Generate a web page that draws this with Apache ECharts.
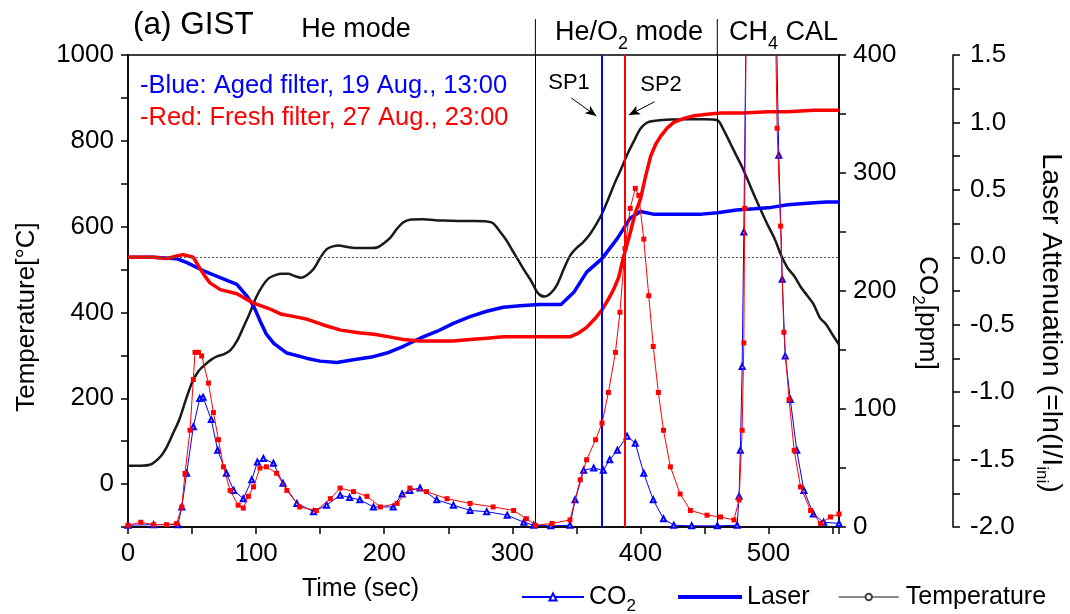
<!DOCTYPE html>
<html>
<head>
<meta charset="utf-8">
<script src="https://cdn.jsdelivr.net/npm/echarts@6/dist/echarts.min.js"></script>
<style>
html, body { margin: 0; background: #fff; }
#graph { width: 1070px; height: 614px; }
</style>
</head>
<body>
<div id="graph"></div>
<script>
// time axis (sec) and values
var tempTime = [0, 10, 17, 25, 30, 35, 40, 45, 50, 55, 60, 65, 70, 75, 80, 85, 90, 95, 100, 105, 110, 115, 120, 125, 130, 135, 140, 145, 150, 155, 160, 165, 170, 175, 180, 190, 195, 200, 205, 210, 215, 220, 230, 240, 250, 260, 270, 280, 285, 290, 295, 300, 305, 310, 315, 320, 325, 330, 335, 340, 345, 350, 355, 360, 365, 370, 375, 380, 385, 390, 395, 400, 405, 410, 420, 440, 450, 460, 465, 470, 475, 480, 485, 490, 495, 500, 505, 510, 515, 520, 525, 530, 535, 540, 545, 550, 555];
var tempVal = [43, 43, 45, 63, 85, 117, 150, 195, 237, 263, 278, 290, 298, 303, 312, 333, 365, 398, 435, 462, 480, 487, 490, 490, 485, 481, 488, 502, 527, 547, 554, 556, 553, 551, 550, 550, 552, 562, 575, 595, 610, 616, 617, 615, 614, 613, 613, 612, 608, 590, 570, 545, 520, 495, 472, 445, 437, 445, 465, 500, 532, 550, 563, 580, 603, 630, 665, 702, 735, 770, 800, 828, 842, 846, 849, 850, 850, 848, 825, 795, 765, 735, 700, 665, 632, 600, 570, 532, 503, 485, 460, 440, 420, 388, 372, 348, 325];

var laserBlueTime = [0, 20, 38, 46, 59, 72, 85, 93, 98, 103, 108, 114, 124, 140, 150, 163, 176, 190, 202, 215, 228, 241, 254, 267, 280, 293, 306, 321, 338, 348, 358, 370, 382, 392, 400, 410, 423, 436, 448, 460, 475, 489, 502, 515, 530, 545, 555];
var laserBlueVal = [0.00, 0.00, -0.01, -0.04, -0.10, -0.15, -0.20, -0.29, -0.36, -0.47, -0.57, -0.64, -0.71, -0.75, -0.77, -0.78, -0.76, -0.74, -0.71, -0.66, -0.60, -0.55, -0.49, -0.44, -0.40, -0.37, -0.36, -0.35, -0.35, -0.26, -0.11, -0.01, 0.14, 0.29, 0.34, 0.32, 0.32, 0.32, 0.32, 0.33, 0.35, 0.36, 0.37, 0.39, 0.40, 0.41, 0.41];

var laserRedTime = [0, 20, 30, 38, 43, 51, 56, 60, 64, 72, 85, 98, 110, 119, 130, 140, 152, 166, 180, 192, 204, 215, 228, 241, 254, 267, 280, 293, 306, 321, 345, 352, 358, 365, 370, 375, 379, 383, 387, 392, 396, 400, 404, 408, 412, 416, 421, 426, 434, 442, 452, 463, 480, 500, 515, 535, 555];
var laserRedVal = [0.00, 0.00, -0.01, 0.01, 0.02, 0.00, -0.08, -0.14, -0.19, -0.24, -0.27, -0.34, -0.38, -0.42, -0.44, -0.46, -0.50, -0.54, -0.56, -0.57, -0.59, -0.61, -0.62, -0.62, -0.62, -0.61, -0.60, -0.59, -0.59, -0.59, -0.59, -0.56, -0.52, -0.45, -0.39, -0.31, -0.24, -0.15, 0.01, 0.18, 0.33, 0.43, 0.60, 0.75, 0.84, 0.90, 0.96, 1.00, 1.03, 1.05, 1.06, 1.07, 1.07, 1.08, 1.08, 1.09, 1.09];

var co2BlueTime = [0, 20, 39, 42, 45.8, 51, 56, 58.6, 65, 70, 76.8, 82.5, 90, 96.6, 101, 105.7, 113.5, 121, 131.8, 144.8, 155, 165.6, 173, 181, 191.6, 207, 214, 220, 228, 241, 254, 267, 280, 296, 309, 316.7, 330, 345, 349, 355.7, 363.5, 371, 376, 382, 389.6, 396, 402.6, 410, 418, 426, 440, 460, 475.5, 477, 478, 479.4, 480.7, 482.5, 494, 506, 508, 510.7, 513, 517, 522, 527.6, 535, 543, 555];
var co2BlueVal = [1.5, 2, 2, 17, 45.5, 85, 109, 110, 91, 65, 45.5, 31, 24, 40, 55, 58, 54, 37, 20, 13, 18.5, 27, 25, 23, 17, 17, 28, 31, 33, 23, 18.5, 14, 13, 10, 4, 1.5, 1, 1.5, 23, 48, 50, 48, 57, 65, 77, 71, 45.5, 23, 7, 1.5, 1, 1, 1.5, 26, 65, 136, 250, 430, 600, 430, 315, 210, 145, 108, 65, 31, 11, 4, 3];

var co2RedTime = [0, 10, 20, 30, 38, 42, 44.5, 48.4, 51, 52.3, 55, 57.5, 62.8, 66.7, 70.6, 74.5, 79.7, 86, 90, 94, 98, 103, 108, 116, 124, 134, 147, 158, 165.6, 176, 186.5, 197, 210, 220, 233, 249, 267, 285, 301, 311, 318, 331, 345, 353, 358, 365, 370, 375, 380.5, 384, 388, 392, 396, 398.7, 402.6, 406.5, 410, 414, 418, 423.4, 431, 439, 452, 462.5, 473, 477, 479.4, 480.7, 481.4, 482.5, 494, 505.5, 506.7, 509.4, 512, 516, 520, 525, 532.8, 540.6, 548.4, 555];
var co2RedVal = [1.5, 4, 2, 2, 3, 17, 45.5, 82, 125, 148, 148, 145, 122, 97, 74, 51, 31, 18.5, 16, 26, 34, 50, 51, 45.5, 31, 17, 14, 24, 33, 30, 26, 17, 20, 33, 30, 24, 20, 17, 14, 7, 1.5, 3, 6, 40, 57, 74, 88, 114, 148, 182, 236, 270, 287, 281, 244, 196, 153, 114, 82, 51, 28, 14, 10, 8.5, 6, 23, 82, 156, 270, 420, 600, 420, 338, 255, 165, 108, 65, 34, 14, 3, 8.5, 11];

// mode boundaries and sampling points (sec)
var modeBounds = [318, 460];
var sp1Time = 370;
var sp2Time = 387.5;

function pairs(xs, ys) {
    return xs.map(function (x, i) { return [x, ys[i]]; });
}

var FONT = '"Liberation Sans", Arial, sans-serif';
var BLUE = '#0000ff';
var RED = '#ff0000';

var axisLine = { show: true, onZero: false, lineStyle: { color: '#000', width: 1.5 } };
var axisTick = { show: true, inside: false, length: 7, lineStyle: { color: '#000', width: 1.5 } };
var subRich = {
    s: { fontSize: 17, fontFamily: FONT, color: '#000', verticalAlign: 'bottom', lineHeight: 16 }
};

var myChart = echarts.init(document.getElementById('graph'));

var option = {
    animation: false,
    backgroundColor: '#fff',
    textStyle: { fontFamily: FONT },
    grid: {
        left: 128,
        right: 231,
        top: 55,
        bottom: 87,
        outerBoundsMode: 'none',
        show: true,
        borderColor: '#000',
        borderWidth: 1.5
    },
    legend: [
        {
            data: ['CO2'],
            left: 516, top: 574,
            itemWidth: 62, itemHeight: 9,
            selectedMode: false,
            formatter: function (name) { return 'CO{s|2}'; },
            textStyle: { fontSize: 25, color: '#000', lineHeight: 36, padding: [0, 0, 0, 0], rich: subRich }
        },
        {
            data: [{ name: 'Laser', icon: 'rect' }],
            left: 673, top: 574,
            itemWidth: 64, itemHeight: 4,
            selectedMode: false,
            textStyle: { fontSize: 25, color: '#000', lineHeight: 36 }
        },
        {
            data: [{ name: 'Temperature', itemStyle: { color: '#444' }, lineStyle: { color: '#666', width: 1.5 } }],
            left: 833, top: 574,
            itemWidth: 60, itemHeight: 8,
            selectedMode: false,
            textStyle: { fontSize: 25, color: '#000', lineHeight: 36, padding: [0, 0, 0, 2] }
        }
    ],
    xAxis: {
        type: 'value',
        min: 0,
        max: 555,
        interval: 50,
        axisLine: axisLine,
        axisTick: axisTick,
        splitLine: { show: false },
        axisLabel: {
            margin: 14,
            fontSize: 26,
            color: '#000',
            formatter: function (v) { return v % 100 === 0 ? String(v) : ''; }
        },
        name: 'Time (sec)',
        nameLocation: 'middle',
        nameGap: 50,
        nameTextStyle: { fontSize: 25, color: '#000', padding: [0, 246, 0, 0] }
    },
    yAxis: [
        {
            type: 'value',
            position: 'left',
            min: -100,
            max: 1000,
            interval: 100,
            axisLine: axisLine,
            axisTick: axisTick,
            splitLine: { show: false },
            axisLabel: {
                margin: 14,
                fontSize: 26,
                color: '#000',
                formatter: function (v) { return v % 200 === 0 ? String(v) : ''; }
            },
            name: 'Temperature[°C]',
            nameLocation: 'middle',
            nameGap: 88,
            nameTextStyle: { fontSize: 26, color: '#000', padding: [0, 52, 0, 0] }
        },
        {
            type: 'value',
            position: 'right',
            min: 0,
            max: 400,
            interval: 50,
            axisLine: axisLine,
            axisTick: axisTick,
            splitLine: { show: false },
            axisLabel: {
                margin: 14,
                fontSize: 26,
                color: '#000',
                formatter: function (v) { return v % 100 === 0 ? String(v) : ''; }
            },
            name: 'CO{s|2}[ppm]',
            nameLocation: 'middle',
            nameRotate: -90,
            nameGap: 70,
            nameTextStyle: { fontSize: 26, color: '#000', lineHeight: 36, padding: [0, 0, 0, 44], rich: subRich }
        },
        {
            type: 'value',
            position: 'right',
            offset: 114,
            min: -2,
            max: 1.5,
            interval: 0.25,
            axisLine: axisLine,
            axisTick: axisTick,
            splitLine: { show: false },
            axisLabel: {
                margin: 17,
                fontSize: 26,
                color: '#000',
                formatter: function (v) {
                    return Math.abs(v * 2 - Math.round(v * 2)) < 1e-6 ? v.toFixed(1) : '';
                }
            },
            name: 'Laser Attenuation (=ln(I/I{s|ini})',
            nameLocation: 'middle',
            nameRotate: -90,
            nameGap: 80,
            nameTextStyle: { fontSize: 28.5, color: '#000', lineHeight: 36, padding: [0, 0, 0, 64], rich: subRich }
        }
    ],
    series: [
        {
            name: 'Temperature',
            type: 'line',
            yAxisIndex: 0,
            symbol: 'emptyCircle',
            symbolSize: 5,
            showSymbol: false,
            smooth: 0.3,
            lineStyle: { color: '#1a1a1a', width: 2.5 },
            itemStyle: { color: '#1a1a1a' },
            z: 2,
            data: pairs(tempTime, tempVal),
            markLine: {
                silent: true,
                symbol: 'none',
                label: { show: false },
                lineStyle: { color: '#000', width: 1, type: 'solid' },
                data: [
                    { xAxis: modeBounds[0] },
                    { xAxis: modeBounds[1] },
                    [
                        { coord: [346, 900], symbol: 'none' },
                        { coord: [365.6, 858], symbol: 'arrow', symbolSize: [7, 11] }
                    ],
                    [
                        { coord: [411, 891], symbol: 'none' },
                        { coord: [391, 860], symbol: 'arrow', symbolSize: [7, 11] }
                    ]
                ]
            }
        },
        {
            name: 'Laser',
            type: 'line',
            yAxisIndex: 2,
            symbol: 'none',
            lineStyle: { color: BLUE, width: 3.5 },
            itemStyle: { color: BLUE },
            z: 3,
            data: pairs(laserBlueTime, laserBlueVal),
            markLine: {
                silent: true,
                symbol: 'none',
                label: { show: false },
                data: [
                    { yAxis: 0, lineStyle: { color: '#555', width: 1, type: [2, 2] } },
                    { xAxis: sp1Time, lineStyle: { color: BLUE, width: 2, type: 'solid' } }
                ]
            }
        },
        {
            name: 'Laser fresh',
            type: 'line',
            yAxisIndex: 2,
            symbol: 'none',
            lineStyle: { color: RED, width: 3.5 },
            itemStyle: { color: RED },
            z: 3,
            data: pairs(laserRedTime, laserRedVal),
            markLine: {
                silent: true,
                symbol: 'none',
                label: { show: false },
                data: [
                    { xAxis: sp2Time, lineStyle: { color: RED, width: 2, type: 'solid' } }
                ]
            }
        },
        {
            name: 'CO2',
            type: 'line',
            yAxisIndex: 1,
            symbol: 'emptyTriangle',
            symbolSize: 5,
            lineStyle: { color: BLUE, width: 1 },
            itemStyle: { color: BLUE, borderWidth: 1 },
            z: 4,
            data: pairs(co2BlueTime, co2BlueVal)
        },
        {
            name: 'CO2 fresh',
            type: 'line',
            yAxisIndex: 1,
            symbol: 'rect',
            symbolSize: 5,
            lineStyle: { color: RED, width: 1 },
            itemStyle: { color: RED },
            z: 5,
            data: pairs(co2RedTime, co2RedVal)
        }
    ]
};

myChart.setOption(option);

// separators continue above the frame into the mode header
var frameTop = myChart.convertToPixel({ yAxisIndex: 0 }, 1000);
var headerLines = modeBounds.map(function (t) {
    var x = myChart.convertToPixel({ xAxisIndex: 0 }, t);
    return {
        type: 'line',
        shape: { x1: x, y1: 19, x2: x, y2: frameTop },
        style: { stroke: '#000', lineWidth: 1 },
        silent: true
    };
});

function label(text, x, y, size, color, align, rich) {
    return {
        type: 'text',
        x: x,
        y: y,
        silent: true,
        style: {
            text: text,
            fontSize: size,
            fontFamily: FONT,
            fill: color,
            align: align || 'left',
            verticalAlign: 'middle',
            lineHeight: rich ? 40 : undefined,
            rich: rich
        }
    };
}

var headRich = {
    s: { fontSize: 18, fontFamily: FONT, fill: '#000', verticalAlign: 'bottom', lineHeight: 18 }
};

myChart.setOption({
    graphic: headerLines.concat([
        label('(a) GIST', 133, 25, 31.5, '#000'),
        label('He mode', 356, 30, 27, '#000', 'center'),
        label('He/O{s|2} mode', 555, 33, 27, '#000', 'left', headRich),
        label('CH{s|4} CAL', 729, 33, 27, '#000', 'left', headRich),
        label('-Blue: Aged filter, 19 Aug., 13:00', 140, 86, 25.5, BLUE),
        label('-Red: Fresh filter, 27 Aug., 23:00', 140, 118, 25.5, RED),
        label('SP1', 569, 83, 22, '#000', 'center'),
        label('SP2', 661, 85, 22, '#000', 'center')
    ])
});
</script>
</body>
</html>
